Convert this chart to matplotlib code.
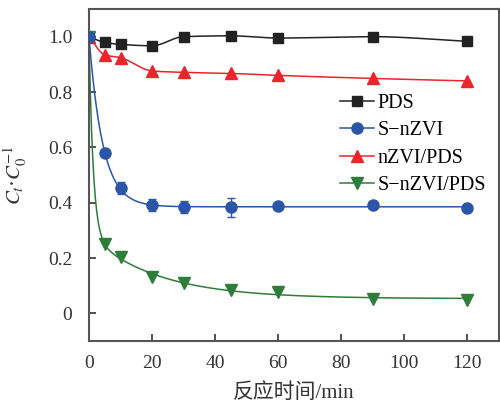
import numpy as np
import matplotlib.pyplot as plt
from matplotlib.lines import Line2D

plt.rcParams["font.family"] = ["Liberation Serif", "Noto Sans CJK SC"]
plt.rcParams["mathtext.fontset"] = "stix"

# Sampling times (min) and C_t/C_0 for each system
t = np.array([0, 5, 10, 20, 30, 45, 60, 90, 120])
pds = np.array([1.0, 0.979, 0.972, 0.967, 1.0, 1.003, 0.995, 1.0, 0.983])
snzvi = np.array([1.0, 0.58, 0.453, 0.391, 0.385, 0.383, 0.387, 0.39, 0.38])
snzvi_err = np.array([0, 0.0, 0.022, 0.022, 0.022, 0.035, 0.0, 0.0, 0.0])
nzvi_pds = np.array([1.0, 0.934, 0.924, 0.876, 0.871, 0.867, 0.86, 0.849, 0.84])
snzvi_pds = np.array([1.0, 0.25, 0.203, 0.132, 0.111, 0.086, 0.079, 0.051, 0.05])


def pchip(x, y, xs):
    # monotone cubic Hermite curve through the points
    h = np.diff(x)
    d = np.diff(y) / h
    m = np.zeros_like(y)
    for i in range(1, len(x) - 1):
        if d[i - 1] * d[i] > 0:
            w1 = 2 * h[i] + h[i - 1]
            w2 = h[i] + 2 * h[i - 1]
            m[i] = (w1 + w2) / (w1 / d[i - 1] + w2 / d[i])
    m[0], m[-1] = d[0], d[-1]
    idx = np.clip(np.searchsorted(x, xs) - 1, 0, len(x) - 2)
    s = (xs - x[idx]) / h[idx]
    h00 = 2 * s**3 - 3 * s**2 + 1
    h10 = s**3 - 2 * s**2 + s
    h01 = -2 * s**3 + 3 * s**2
    h11 = s**3 - s**2
    return h00 * y[idx] + h10 * h[idx] * m[idx] + h01 * y[idx + 1] + h11 * h[idx] * m[idx + 1]


def fit_exp(x, y, xs, two=False):
    # first-order (or two-stage) decay fitted by least squares
    best = None
    k1s = np.linspace(0.05, 3, 300)
    k2s = np.linspace(0.005, 0.2, 100) if two else [None]
    for k1 in k1s:
        for k2 in k2s:
            cols = [np.exp(-k1 * x), np.ones_like(x, dtype=float)]
            if two:
                cols.append(np.exp(-k2 * x))
            A = np.column_stack(cols)
            coef, *_ = np.linalg.lstsq(A, y, rcond=None)
            r = np.sum((A @ coef - y) ** 2)
            if best is None or r < best[0]:
                best = (r, k1, k2, coef)
    _, k1, k2, coef = best
    out = coef[0] * np.exp(-k1 * xs) + coef[1]
    if two:
        out += coef[2] * np.exp(-k2 * xs)
    return out


ts = np.linspace(0, 120, 600)

fig = plt.figure(figsize=(5, 4.08), dpi=100)
ax = fig.add_axes([0.178, 0.164, 0.82, 0.814])

series = [
    ("PDS", pds, "#222222", "s", 7, pchip(t, pds, ts)),
    ("S\u2212nZVI", snzvi, "#2b55a6", "o", 8, fit_exp(t, snzvi, ts)),
    ("nZVI/PDS", nzvi_pds, "#e8262b", "^", 9, pchip(t, nzvi_pds, ts)),
    ("S\u2212nZVI/PDS", snzvi_pds, "#2e7d3a", "v", 9, fit_exp(t, snzvi_pds, ts, two=True)),
]

handles = []
for name, y, c, mk, ms, curve in series:
    ax.plot(ts, curve, color=c, lw=1.1, zorder=2)
    if name == "S\u2212nZVI":
        ax.errorbar(t, y, yerr=snzvi_err, fmt=mk, color=c, ms=ms,
                    elinewidth=1, capsize=3, zorder=3)
    else:
        ax.plot(t, y, mk, color=c, ms=ms, zorder=3)
    handles.append(Line2D([], [], color=c, marker=mk, ms=ms, lw=1.1, label=name))

ax.set_xlim(0, 130)
ax.set_ylim(-0.1, 1.1)
ax.set_xticks([0, 20, 40, 60, 80, 100, 120])
ax.set_yticks([0, 0.2, 0.4, 0.6, 0.8, 1.0])
ax.set_yticklabels(["0", "0.2", "0.4", "0.6", "0.8", "1.0"])
ax.tick_params(direction="in", length=5, width=1.2, labelsize=14,
               colors="#333333")
ax.tick_params(axis="y", pad=12)
ax.tick_params(axis="x", pad=10)
for sp in ax.spines.values():
    sp.set_color("#555555")
    sp.set_linewidth(1.5)

ax.set_xlabel("反应时间/min", fontsize=15, color="#333333", labelpad=8)
ax.set_ylabel("$C_t$\u00b7$C_0^{-1}$", fontsize=15, color="#333333", labelpad=14)

ax.legend(handles=handles, loc="upper left", bbox_to_anchor=(0.612, 0.745),
          frameon=False, fontsize=14.5, handlelength=1.7, handletextpad=0.15,
          labelspacing=0.42, borderaxespad=0, borderpad=0)

fig.savefig("out.png", dpi=100)
